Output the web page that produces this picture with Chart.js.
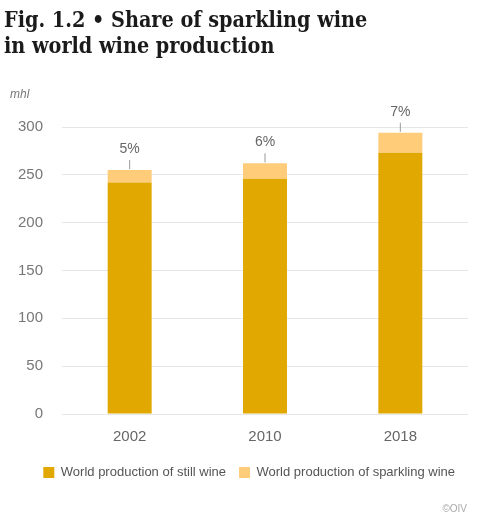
<!DOCTYPE html>
<html>
<head>
<meta charset="utf-8">
<script src="https://cdn.jsdelivr.net/npm/chart.js@4.4.1/dist/chart.umd.min.js"></script>
<style>
  html, body { margin: 0; padding: 0; background: #fff; }
  #wrap { position: relative; width: 486px; height: 519px; }
</style>
</head>
<body>
<div id="wrap"><canvas id="chart"></canvas></div>
<script>
const years = ["2002", "2010", "2018"];
const stillWine = [242, 246, 273];
const sparklingWine = [13, 16, 21];
const shareLabels = ["5%", "6%", "7%"];
const yTicks = [0, 50, 100, 150, 200, 250, 300];

const sans = "'Liberation Sans', Arial, sans-serif";
const serif = "'DejaVu Serif Condensed', 'DejaVu Serif', serif";

// title, unit, share labels and source
const extras = {
  id: "extras",
  afterDraw(chart) {
    const c = chart.ctx;
    const x = chart.scales.x, y = chart.scales.y;
    c.save();

    // fit the title's first line to the width seen in the picture
    c.font = "bold 20px " + serif;
    const w = c.measureText("Fig. 1.2 \u2022 Share of sparkling wine").width;
    const size = Math.round(20 * 364 / w * 10) / 10;
    c.font = "bold " + size + "px " + serif;
    c.fillStyle = "#1a1a1a";
    c.textBaseline = "alphabetic";
    c.textAlign = "left";
    c.fillText("Fig. 1.2 \u2022 Share of sparkling wine", 4, 27);
    c.fillText("in world wine production", 4, 53);

    c.fillStyle = "#777";
    c.font = "italic 12px " + sans;
    c.textBaseline = "middle";
    c.fillText("mhl", 10, 95);

    c.textAlign = "center";
    c.font = "14px " + sans;
    years.forEach((yr, i) => {
      const px = x.getPixelForValue(i);
      const top = y.getPixelForValue(stillWine[i] + sparklingWine[i]);
      c.strokeStyle = "#999";
      c.lineWidth = 1;
      c.beginPath();
      c.moveTo(px, top - 1);
      c.lineTo(px, top - 10);
      c.stroke();
      c.fillStyle = "#666";
      c.fillText(shareLabels[i], px, top - 21);
    });

    c.fillStyle = "#aaa";
    c.font = "10px " + sans;
    c.textAlign = "right";
    c.fillText("\u00a9OIV", 467, 509);
    c.restore();
  }
};

new Chart(document.getElementById("chart"), {
  type: "bar",
  data: {
    labels: years,
    datasets: [
      {
        label: "World production of still wine",
        data: stillWine,
        backgroundColor: "#e0a800"
      },
      {
        label: "World production of sparkling wine",
        data: sparklingWine,
        backgroundColor: "#ffcc7a"
      }
    ]
  },
  options: {
    responsive: true,
    maintainAspectRatio: false,
    animation: false,
    layout: { padding: { left: 4, right: 18, top: 127, bottom: 30 } },
    datasets: { bar: { categoryPercentage: 1, barPercentage: 0.325 } },
    plugins: {
      title: { display: false },
      tooltip: { enabled: false },
      legend: {
        position: "bottom",
        align: "end",
        labels: {
          boxWidth: 11,
          boxHeight: 11,
          padding: 13,
          color: "#555",
          font: { family: sans, size: 13 }
        }
      }
    },
    scales: {
      x: {
        stacked: true,
        afterFit(s) { s.height -= 7; },
        grid: { display: false, drawTicks: false },
        border: { display: false },
        ticks: { color: "#666", padding: 14, font: { family: sans, size: 15 } }
      },
      y: {
        stacked: true,
        min: 0,
        max: 300,
        afterFit(s) { s.width = 58; },
        afterBuildTicks(s) { s.ticks = yTicks.map(v => ({ value: v })); },
        grid: { color: "#e6e6e6", drawTicks: false },
        border: { display: false },
        ticks: { color: "#777", padding: 19, font: { family: sans, size: 15 } }
      }
    }
  },
  plugins: [extras]
});
</script>
</body>
</html>
